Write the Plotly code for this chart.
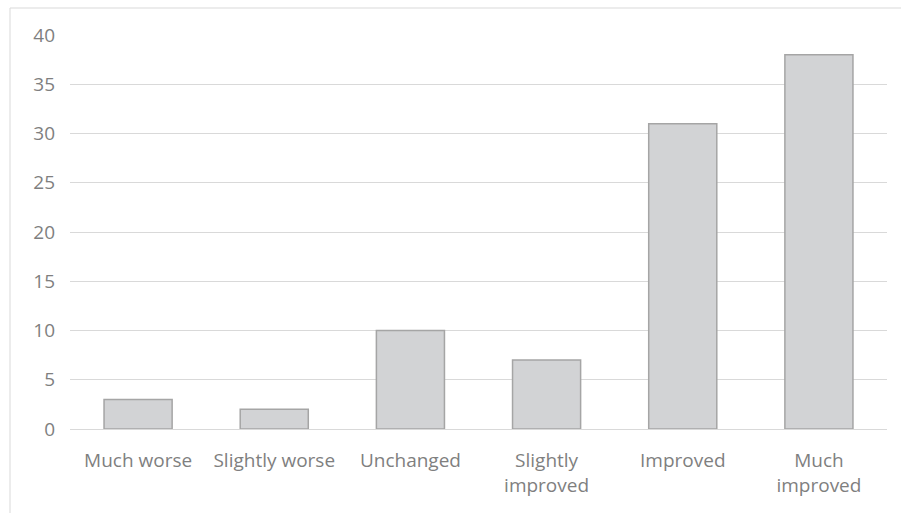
import plotly.graph_objects as go

categories = ["Much worse", "Slightly worse", "Unchanged", "Slightly<br>improved", "Improved", "Much<br>improved"]
counts = [3, 2, 10, 7, 31, 38]
y_ticks = [0, 5, 10, 15, 20, 25, 30, 35, 40]

W, H = 901, 513
L, R, T, B = 70, 14, 35, 84
pw, ph = W - L - R, H - T - B

fig = go.Figure(go.Bar(
    x=categories,
    y=counts,
    marker=dict(color="#d2d3d5", line=dict(color="#a5a5a5", width=1.5)),
))

# light frame around the whole chart area
fig.add_shape(
    type="rect", xref="paper", yref="paper",
    x0=(10 - L) / pw, x1=(W + 20 - L) / pw,
    y0=-(B + 20) / ph, y1=1 + (T - 8) / ph,
    line=dict(color="#d9d9d9", width=1), fillcolor="rgba(0,0,0,0)", layer="below",
)

fig.update_layout(
    width=W, height=H,
    margin=dict(l=L, r=R, t=T, b=B),
    plot_bgcolor="white", paper_bgcolor="white",
    bargap=0.5,
    showlegend=False,
    font=dict(family="Open Sans", size=19, color="#7f7f7f"),
)
fig.update_xaxes(
    showgrid=False, showline=True, linecolor="#d9d9d9", linewidth=1,
    ticks="", ticklabelstandoff=14,
    tickfont=dict(size=19, color="#7f7f7f"),
)
fig.update_yaxes(
    range=[0, 40], tickvals=y_ticks, showgrid=True, gridcolor="#d9d9d9", gridwidth=1,
    zeroline=False, showline=False, ticks="", ticklabelstandoff=14,
    tickfont=dict(size=19, color="#7f7f7f"),
)

fig.write_html("out.html")
